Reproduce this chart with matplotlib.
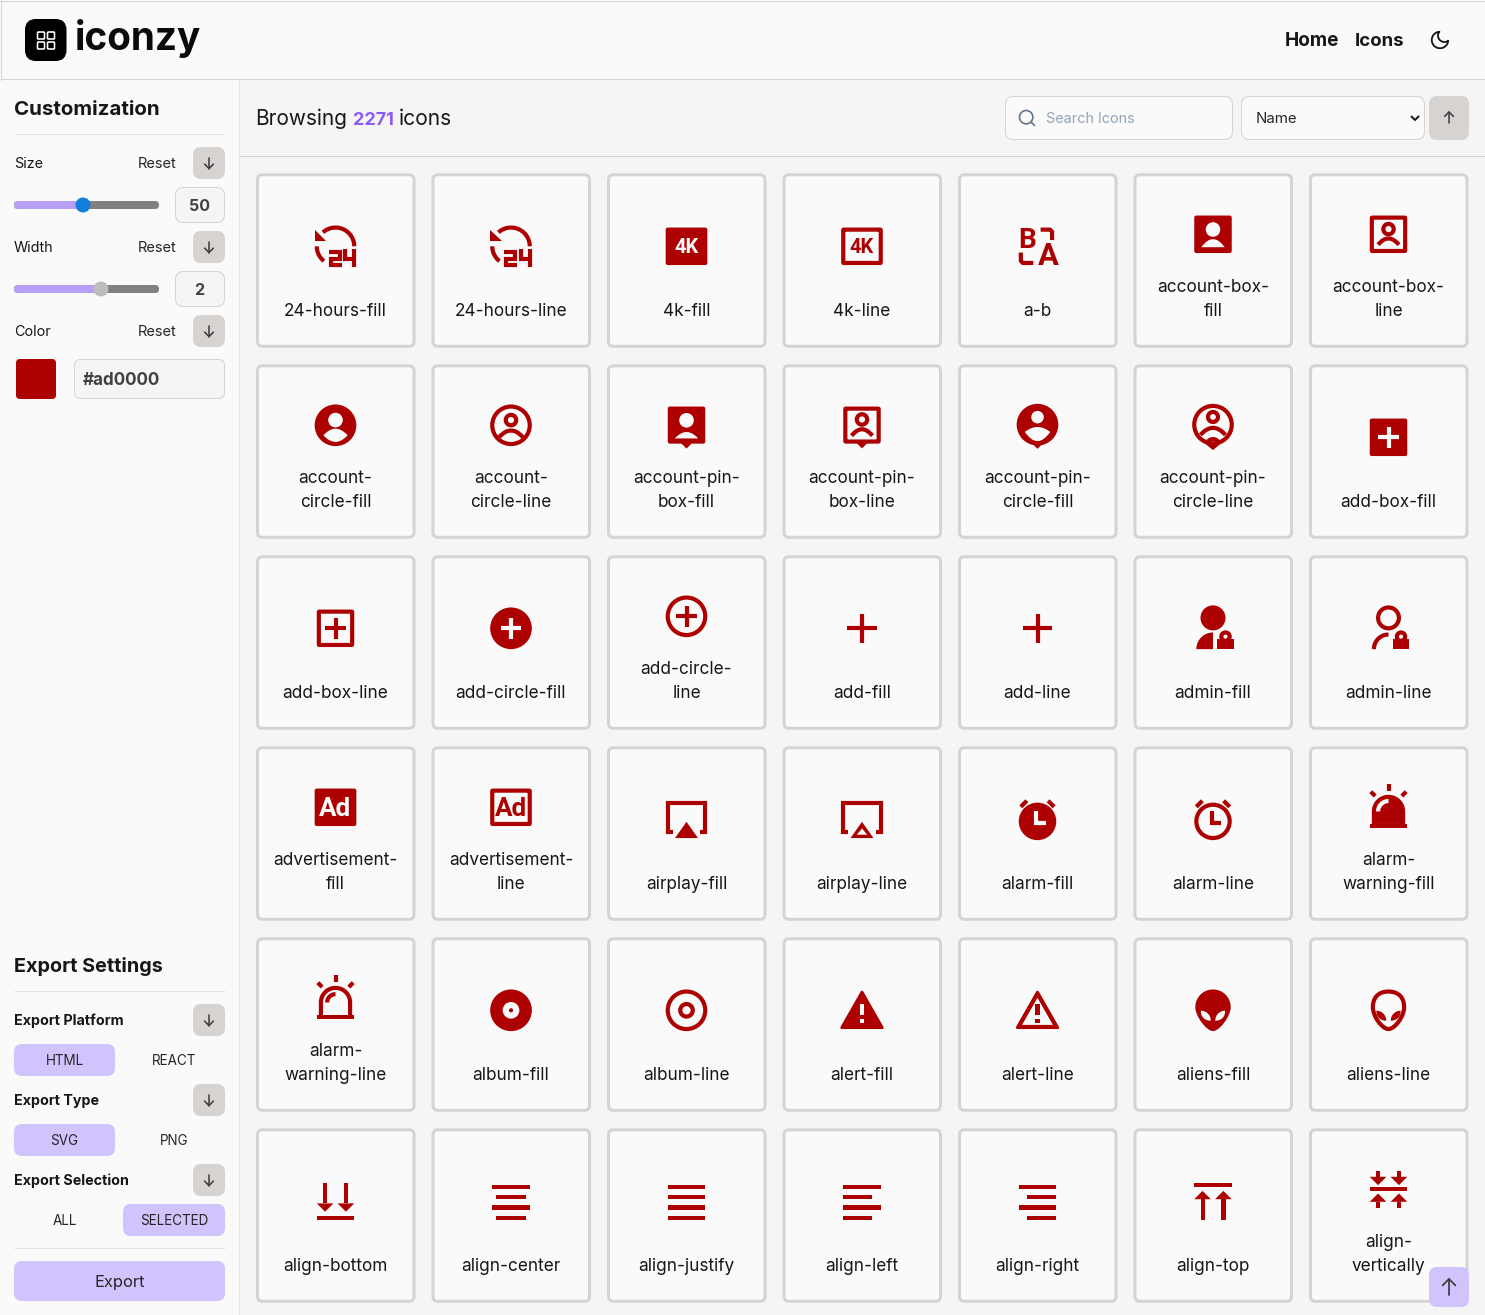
import numpy as np
import matplotlib
matplotlib.use("Agg")
import matplotlib.pyplot as plt
from matplotlib.patches import Circle, FancyBboxPatch, PathPatch, Polygon, Rectangle
from matplotlib.path import Path

W, H = 1485, 1315
RED = "#ad0000"
BG = "#fafafa"
MAIN = "#f5f5f5"
EDGE = "#d4d4d4"
SOFT = "#e5e5e5"
STONE = "#d6d3d1"
LILAC = "#d1c4fc"
INK = "#171717"
FONT = ["Inter", "DejaVu Sans"]

# data
icon_labels = [
    "24-hours-fill", "24-hours-line", "4k-fill", "4k-line", "a-b", "account-box-\nfill", "account-box-\nline",
    "account-\ncircle-fill", "account-\ncircle-line", "account-pin-\nbox-fill", "account-pin-\nbox-line",
    "account-pin-\ncircle-fill", "account-pin-\ncircle-line", "add-box-fill",
    "add-box-line", "add-circle-fill", "add-circle-\nline", "add-fill", "add-line", "admin-fill", "admin-line",
    "advertisement-\nfill", "advertisement-\nline", "airplay-fill", "airplay-line", "alarm-fill", "alarm-line",
    "alarm-\nwarning-fill",
    "alarm-\nwarning-line", "album-fill", "album-line", "alert-fill", "alert-line", "aliens-fill", "aliens-line",
    "align-bottom", "align-center", "align-justify", "align-left", "align-right", "align-top", "align-\nvertically",
]
icon_count = "2271"
size_value = "50"
width_value = "2"
hex_value = "#ad0000"

fig = plt.figure(figsize=(W / 100, H / 100), dpi=100, facecolor=MAIN)
ax = fig.add_axes([0, 0, 1, 1])
ax.set_xlim(0, W)
ax.set_ylim(H, 0)
ax.axis("off")

order = [10]
ox, oy, U = 0, 0, 50 / 24


def nz():
    order[0] += 1
    return order[0]


def set_icon(cx, cy, size=50):
    global ox, oy, U
    U = size / 24
    ox, oy = cx - size / 2, cy - size / 2


def T(pts):
    return [(ox + x * U, oy + y * U) for x, y in pts]


def txt(x, y, s, size=16, weight="normal", color=INK, ha="left", family=FONT):
    ax.text(x, y, s, fontsize=size * 0.72, fontweight=weight, color=color, ha=ha, va="baseline",
            family=family, zorder=100000)


def rbox(x0, y0, x1, y1, r=8, fc=BG, ec="none", lw=0):
    ax.add_patch(FancyBboxPatch((x0, y0), x1 - x0, y1 - y0, boxstyle=f"round,pad=0,rounding_size={r}",
                                fc=fc, ec=ec, lw=lw * 0.72, zorder=nz()))


def hline(x0, x1, y, c=SOFT, lw=1.5):
    ax.plot([x0, x1], [y, y], color=c, lw=lw * 0.72, solid_capstyle="butt", zorder=nz())


def px_stroke(xs, ys, c="#3f3f46", lw=1.6):
    ax.plot(xs, ys, color=c, lw=lw * 0.72, solid_capstyle="round", solid_joinstyle="round", zorder=nz())


def arrow_btn(cx, cy, up=False, s=6, c="#3f3f46", lw=1.6):
    d = -1 if up else 1
    px_stroke([cx, cx], [cy - d * s, cy + d * s], c, lw)
    px_stroke([cx - s * 0.8, cx, cx + s * 0.8], [cy + d * s * 0.2, cy + d * s, cy + d * s * 0.2], c, lw)


# icon pieces, all in the 24 unit icon grid
def bar(x0, y0, x1, y1, c=RED):
    (a, b), (e, f) = T([(x0, y0), (x1, y1)])
    ax.add_patch(Rectangle((a, b), e - a, f - b, fc=c, ec="none", zorder=nz()))


def box(x0, y0, x1, y1, r=1, c=RED, line=False):
    (a, b), (e, f) = T([(x0, y0), (x1, y1)])
    if line:
        rbox(a, b, e, f, r * U, "none", c, 2 * U)
    else:
        rbox(a, b, e, f, r * U, c)


def stroke(pts, lw=2, c=RED, cap="butt", join="miter"):
    p = T(pts)
    ax.plot([q[0] for q in p], [q[1] for q in p], color=c, lw=lw * U * 0.72, solid_capstyle=cap,
            solid_joinstyle=join, zorder=nz())


def fill(pts, c=RED, round_lw=0):
    ax.add_patch(Polygon(T(pts), closed=True, fc=c, ec=c if round_lw else "none", lw=round_lw * U * 0.72,
                         joinstyle="round", zorder=nz()))


def dot(x, y, r, c=RED):
    a, b = T([(x, y)])[0]
    ax.add_patch(Circle((a, b), r * U, fc=c, ec="none", zorder=nz()))


def ring(x, y, r, lw=2, c=RED):
    a, b = T([(x, y)])[0]
    ax.add_patch(Circle((a, b), r * U, fc="none", ec=c, lw=lw * U * 0.72, zorder=nz()))


def arc_pts(x, y, r, t0, t1):
    t = np.radians(np.linspace(t0, t1, 40))
    return list(zip(x + r * np.cos(t), y - r * np.sin(t)))


def arc(x, y, r, t0, t1, lw=2, c=RED):
    stroke(arc_pts(x, y, r, t0, t1), lw, c)


def shape(start, *segs, fc=RED, ec="none", lw=0, close=True):
    verts = [start]
    codes = [Path.MOVETO]
    for seg in segs:
        verts += list(seg)
        kind = {1: Path.LINETO, 2: Path.CURVE3, 3: Path.CURVE4}[len(seg)]
        codes += [kind] * len(seg)
    if close:
        verts.append(start)
        codes.append(Path.CLOSEPOLY)
    ax.add_patch(PathPatch(Path(T(verts), codes), fc=fc, ec=ec, lw=lw * U * 0.72, zorder=nz()))


def dome(x0, x1, y, top, c=BG):
    shape((x0, y), [(12, 2 * top - y), (x1, y)], fc=c)


def cap_line(x0, x1, y, top):
    shape((x0, y), [(12, 2 * top - y), (x1, y)], fc="none", ec=RED, lw=2, close=False)


def lens(x0, x1, y, top, bottom, c=BG):
    shape((x0, y), [(12, 2 * top - y), (x1, y)], [(12, 2 * bottom - y), (x0, y)], fc=c)


def icon_text(x, y, s, size, c):
    a, b = T([(x, y)])[0]
    txt(a, b, s, size, "bold", c, "center", ["Roboto", "DejaVu Sans"])


def hours():
    fill([(7.5, 9.5), (2, 9.5), (2, 4)])
    arc(12, 12, 9, 0, 132)
    arc(12, 12, 9, 180, 232)
    stroke([(8.7, 14.5), (14, 14.5), (14, 18), (9.7, 18), (9.7, 21), (15, 21)], 2)
    stroke([(16.7, 13.5), (16.7, 18), (22, 18)], 2)
    stroke([(21, 13.5), (21, 22)], 2)


def plus(a, b, c=RED):
    stroke([(a, 12), (b, 12)], 2, c)
    stroke([(12, a), (12, b)], 2, c)


def head_dome(hy, base, top):
    dot(12, hy, 3.5, BG)
    dome(6.4, 17.6, base, top)


def pin_tip(y):
    fill([(9.3, y), (14.7, y), (12, y + 2.7)])


def lock():
    bar(14, 17, 22, 22)
    ring(18, 16, 2)


def airplay_frame():
    stroke([(5.5, 18), (3, 18), (3, 4), (21, 4), (21, 18), (18.5, 18)])


def alarm_horns():
    stroke([(4.0, 6.0), (6.9, 3.1)])
    stroke([(20.0, 6.0), (17.1, 3.1)])


def rays():
    stroke([(12, 1), (12, 4)])
    stroke([(20.5, 4.5), (18.4, 6.6)])
    stroke([(3.5, 4.5), (5.6, 6.6)])


def egg(fc, ec="none", lw=0, inset=0):
    a, b, c = 2 + inset, 3.5 + inset, 22 - inset
    shape((12, a), [(17, a), (24 - b, 6), (24 - b, 10.5)], [(24 - b, 15), (15, c), (12, c)],
          [(9, c), (b, 15), (b, 10.5)], [(b, 6), (7, a), (12, a)], fc=fc, ec=ec, lw=lw)


def eyes(c):
    shape((6.2, 12.2), [(6, 15), (8, 17), (10.9, 17)], [(11, 14.5), (9, 12.2), (6.2, 12.2)], fc=c)
    shape((17.8, 12.2), [(18, 15), (16, 17), (13.1, 17)], [(13, 14.5), (15, 12.2), (17.8, 12.2)], fc=c)


def bars(spans):
    for (a, b), y in zip(spans, [4, 9, 14, 19]):
        bar(a, y, b, y + 2)


def arrow_down(x, top, tip):
    bar(x - 1, top, x + 1, tip - 4)
    fill([(x - 4, tip - 4), (x + 4, tip - 4), (x, tip)])


def arrow_up(x, tip, bottom):
    bar(x - 1, tip + 4, x + 1, bottom)
    fill([(x - 4, tip + 4), (x + 4, tip + 4), (x, tip)])


def draw_icon(name):
    if name.startswith("24-hours"):
        hours()
    elif name == "4k-fill":
        box(2, 3, 22, 21)
        icon_text(12, 15.3, "4K", 20, BG)
    elif name == "4k-line":
        box(3, 4, 21, 20, 0.3, line=True)
        icon_text(12, 15.3, "4K", 20, RED)
    elif name == "a-b":
        icon_text(7.2, 13, "B", 28, RED)
        icon_text(17, 21, "A", 31, RED)
        stroke([(13.5, 4), (18, 4), (19, 5), (19, 9)])
        stroke([(4, 15), (4, 19), (5, 20), (10, 20)])
    elif name == "account-box-fill":
        box(3, 3, 21, 21)
        head_dome(9.7, 18.2, 14.3)
    elif name == "account-box-line":
        box(4, 4, 20, 20, 0.3, line=True)
        ring(12, 9.5, 2.5)
        cap_line(7, 17, 17, 14)
    elif name == "account-circle-fill":
        dot(12, 12, 10)
        dot(12, 9.5, 3.5, BG)
        lens(6.2, 17.8, 16.8, 13.6, 20)
    elif name == "account-circle-line":
        ring(12, 12, 9)
        ring(12, 9.5, 2.5)
        cap_line(6.3, 17.7, 17.7, 14.5)
    elif name == "account-pin-box-fill":
        box(3, 3, 21, 20.8)
        pin_tip(20.5)
        head_dome(9.6, 18.3, 15.2)
    elif name == "account-pin-box-line":
        box(4, 4, 20, 19.8, 0.3, line=True)
        pin_tip(20.4)
        ring(12, 9.2, 2.5)
        cap_line(7, 17, 17, 13.9)
    elif name == "account-pin-circle-fill":
        dot(12, 11.7, 10)
        pin_tip(20.6)
        dot(12, 8.1, 3, BG)
        lens(5.9, 18.1, 15.2, 12.8, 19.6)
    elif name == "account-pin-circle-line":
        ring(12, 11.7, 9)
        stroke([(9.3, 20.4), (12, 22.6), (14.7, 20.4)])
        ring(12, 8, 2.4)
        cap_line(6, 18, 16.6, 13.2)
        cap_line(8.5, 15.5, 20.8, 18.6)
    elif name == "add-box-fill":
        box(3, 3, 21, 21)
        plus(7, 17, BG)
    elif name == "add-box-line":
        box(4, 4, 20, 20, 0.3, line=True)
        plus(7, 17)
    elif name == "add-circle-fill":
        dot(12, 12, 10)
        plus(7, 17, BG)
    elif name == "add-circle-line":
        ring(12, 12, 9)
        plus(7, 17)
    elif name in ("add-fill", "add-line"):
        plus(5, 19)
    elif name == "admin-fill":
        dot(12, 7, 6)
        fill([(12, 22)] + arc_pts(12, 22, 8, 90, 180))
        lock()
    elif name == "admin-line":
        ring(12, 7, 5)
        arc(12, 22, 7, 90, 180)
        lock()
    elif name == "advertisement-fill":
        box(2, 3, 22, 21)
        icon_text(12, 16.4, "Ad", 26, BG)
    elif name == "advertisement-line":
        box(3, 4, 21, 20, 0.3, line=True)
        icon_text(12, 16.4, "Ad", 26, RED)
    elif name == "airplay-fill":
        airplay_frame()
        fill([(12, 13.2), (17.5, 21), (6.5, 21)])
    elif name == "airplay-line":
        airplay_frame()
        fill([(12, 13.2), (17.5, 21), (6.5, 21)])
        fill([(12, 16.4), (14.5, 19.4), (9.5, 19.4)], BG)
    elif name == "alarm-fill":
        alarm_horns()
        dot(12, 13, 9)
        stroke([(11.5, 7.8), (11.5, 14), (16, 14)], 2, BG)
    elif name == "alarm-line":
        alarm_horns()
        ring(12, 13, 8)
        stroke([(11.5, 7.8), (11.5, 14), (16, 14)])
    elif name == "alarm-warning-fill":
        rays()
        fill(arc_pts(12, 14, 8, 0, 180) + [(4, 20), (20, 20)])
        bar(3, 20, 21, 22)
        arc(12, 14, 5, 90, 180, 2, BG)
    elif name == "alarm-warning-line":
        rays()
        stroke([(5, 20.5)] + arc_pts(12, 14, 7, 180, 0) + [(19, 20.5)])
        bar(3, 20, 21, 22)
        arc(12, 14, 4, 90, 180)
    elif name == "album-fill":
        dot(12, 12, 10)
        dot(12, 12, 4, BG)
        dot(12, 12, 1)
    elif name == "album-line":
        ring(12, 12, 9)
        ring(12, 12, 3)
    elif name == "alert-fill":
        fill([(12, 3.3), (21.7, 20.3), (2.3, 20.3)], RED, 1.4)
        bar(11, 9, 13, 14.4, BG)
        bar(11, 16, 13, 18, BG)
    elif name == "alert-line":
        fill([(12, 3.3), (21.7, 20.3), (2.3, 20.3)], RED, 1.4)
        fill([(12, 6), (19.4, 19), (4.6, 19)], BG)
        bar(11, 9, 13, 14.4)
        bar(11, 16, 13, 18)
    elif name == "aliens-fill":
        egg(RED)
        eyes(BG)
    elif name == "aliens-line":
        egg("none", RED, 2, 1)
        eyes(RED)
    elif name == "align-bottom":
        bar(3, 19, 21, 21)
        arrow_down(7, 3, 17)
        arrow_down(17, 3, 17)
    elif name == "align-center":
        bars([(3, 21), (5, 19), (3, 21), (5, 19)])
    elif name == "align-justify":
        bars([(3, 21), (3, 21), (3, 21), (3, 21)])
    elif name == "align-left":
        bars([(3, 21), (3, 17), (3, 21), (3, 17)])
    elif name == "align-right":
        bars([(3, 21), (7, 21), (3, 21), (7, 21)])
    elif name == "align-top":
        bar(3, 3, 21, 5)
        arrow_up(7, 7, 21)
        arrow_up(17, 7, 21)
    elif name == "align-vertically":
        bar(3, 11, 21, 13)
        arrow_down(7, 3, 10)
        arrow_down(17, 3, 10)
        arrow_up(7, 14, 21)
        arrow_up(17, 14, 21)


# page frame
ax.add_patch(Rectangle((0, 0), W, 80, fc=BG, ec="none", zorder=nz()))
ax.add_patch(Rectangle((0, 80), 240, H - 80, fc=BG, ec="none", zorder=nz()))
hline(0, W, 79, EDGE, 1)
hline(0, W, 0.5, EDGE, 1)
ax.plot([0.5, 0.5], [0, 80], color=EDGE, lw=0.72, zorder=nz())
ax.plot([W - 0.5, W - 0.5], [0, 80], color=EDGE, lw=0.72, zorder=nz())
ax.plot([239, 239], [80, H], color=SOFT, lw=0.72, zorder=nz())
hline(240, W, 156, EDGE, 1)

# header
rbox(25, 19, 66.5, 61, 11, "#000000")
for a, b in [(37.5, 32), (47.5, 32), (37.5, 42), (47.5, 42)]:
    rbox(a, b, a + 7, b + 7, 1, "none", "#ffffff", 1.6)
txt(74.5, 50, "iconzy", 38.7, "bold", "#0a0a0a")
txt(1285, 46, "Home", 19, "bold")
txt(1355, 46, "Icons", 18.6, "bold")
set_icon(1440, 40, 22)
stroke(arc_pts(12, 12, 9, 95, 355) + arc_pts(16.84, 7.16, 7, 306.5, 143.5), 2, "#171717", "round", "round")

# toolbar
txt(255.5, 125, "Browsing", 20.8)
txt(353, 125, icon_count, 18, "bold", "#8b5cf6")
txt(399, 125, "icons", 21)
rbox(1005.5, 96.5, 1232.5, 139.5, 8, BG, EDGE, 1)
set_icon(1027, 118, 20)
ring(11, 11, 8, 2, "#64748b")
stroke([(21, 21), (16.65, 16.65)], 2, "#64748b", "round")
txt(1046, 123, "Search Icons", 14.4, color="#94a3b8")
rbox(1241.5, 96.5, 1424.5, 139.5, 8, BG, EDGE, 1)
txt(1256, 123, "Name", 15, color="#262626")
px_stroke([1411.5, 1415, 1418.5], [116.5, 120, 116.5], "#171717", 2)
rbox(1429, 96, 1469, 140, 8, STONE)
arrow_btn(1449, 117.5, up=True, s=5.5)

# sidebar: customization
txt(14, 115, "Customization", 20.5, "bold")
hline(14, 225, 134, SOFT, 1)
for y, lab in [(147, "Size"), (231, "Width"), (315, "Color")]:
    txt(14, y + 21, lab, 14.4)
    txt(138, y + 21, "Reset", 14.6, color="#262626")
    rbox(193, y, 225, y + 32, 8, STONE)
    arrow_btn(209, y + 16, s=5.5)
for ty, knob, kc, val in [(205, 83, "#1080dc", size_value), (289, 101, "#bdbdbd", width_value)]:
    rbox(14, ty - 4, 159, ty + 4, 4, "#808080")
    rbox(14, ty - 4, knob, ty + 4, 4, "#b79ff5")
    ax.add_patch(Circle((knob, ty), 7.5, fc=kc, ec="none", zorder=nz()))
    rbox(175.5, ty - 17.5, 224.5, ty + 17.5, 8, MAIN, EDGE, 1)
    txt(199.5, ty + 6, val, 16, "bold", "#404040", "center")
rbox(16, 359, 56, 399, 4, RED)
rbox(74.5, 359.5, 224.5, 398.5, 6, MAIN, EDGE, 1)
txt(83, 385, hex_value, 17, "bold", "#404040")

# sidebar: export settings
txt(14, 972, "Export Settings", 19.8, "bold")
hline(14, 225, 991, SOFT, 1)
export_rows = [("Export Platform", 1004, "HTML", "REACT", 0), ("Export Type", 1084, "SVG", "PNG", 0),
               ("Export Selection", 1164, "ALL", "SELECTED", 1)]
for lab, y, left, right, active in export_rows:
    txt(14, y + 21, lab, 14.3, "bold")
    rbox(193, y, 225, y + 32, 8, STONE)
    arrow_btn(209, y + 16, s=5.5)
    if active == 0:
        rbox(14, y + 40, 115, y + 72, 8, LILAC)
    else:
        rbox(123, y + 40, 225, y + 72, 8, LILAC)
    txt(64.5, y + 61, left, 13.5, color="#262626", ha="center")
    txt(174, y + 61, right, 13.5, color="#262626", ha="center")
hline(14, 225, 1248, SOFT, 1)
rbox(14, 1261, 225, 1301, 8, LILAC)
txt(119.5, 1287, "Export", 16.5, color="#262626", ha="center")

# icon grid
for i, label in enumerate(icon_labels):
    col, row = i % 7, i // 7
    x0 = 256 + col * 175.5
    y0 = 173.3 + row * 191
    rbox(x0 + 1.5, y0 + 1.5, x0 + 158, y0 + 173, 5, BG, EDGE, 3)
    cx = x0 + 79.5
    lines = label.split("\n")
    if len(lines) == 2:
        txt(cx, y0 + 119, lines[0], 17.2, ha="center")
        txt(cx, y0 + 143, lines[1], 17.2, ha="center")
        set_icon(cx, y0 + 61)
    else:
        txt(cx, y0 + 143, label, 17.2, ha="center")
        set_icon(cx, y0 + 73)
    draw_icon(label.replace("\n", ""))

# scroll to top
rbox(1429, 1267, 1469, 1307, 8, LILAC)
arrow_btn(1449, 1287, up=True, s=8, lw=1.8)

fig.savefig("out.png", dpi=100, facecolor=MAIN)
